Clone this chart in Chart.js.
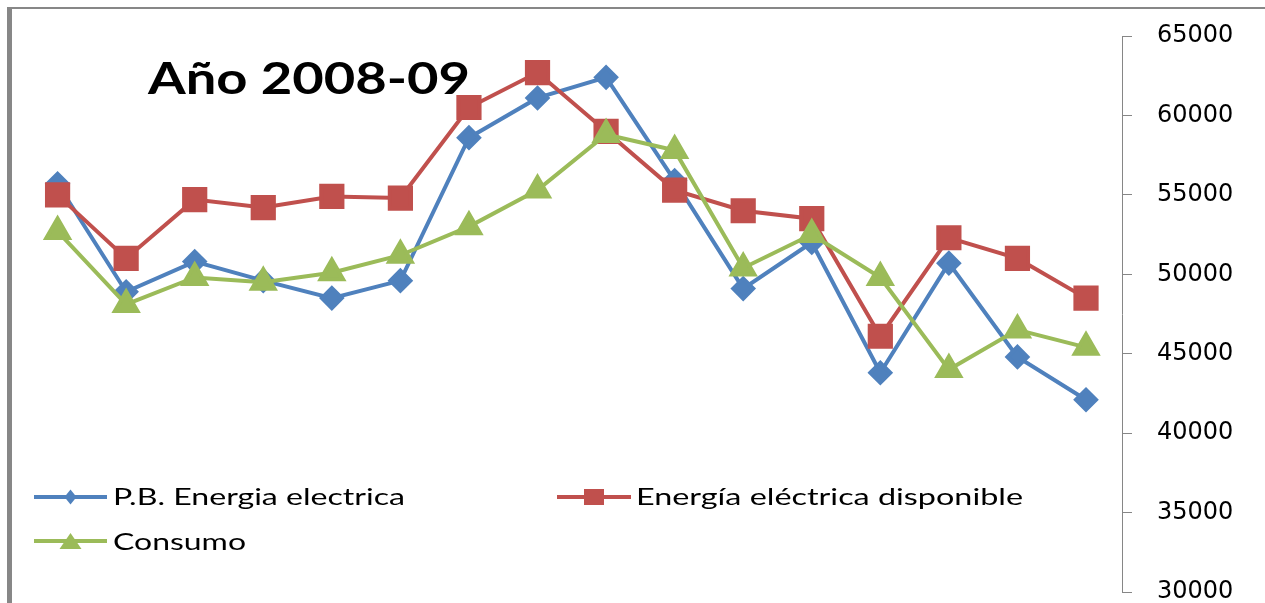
<!DOCTYPE html>
<html>
<head>
<meta charset="utf-8">
<script src="https://cdn.jsdelivr.net/npm/chart.js@4.4.0/dist/chart.umd.min.js"></script>
<style>
  html, body { margin: 0; padding: 0; background: #fff; overflow: hidden; }
  #marco { position: absolute; left: 7px; top: 7px; width: 1400px; height: 800px;
           border-top: 2px solid #878787; border-left: 5px solid #878787; }
  #caja { position: absolute; left: 0; top: 0; width: 1265px; height: 603px; }
</style>
</head>
<body>
<div id="marco"></div>
<div id="caja"><canvas id="grafico"></canvas></div>
<script>
// periodos del año 2008-09 (sin rótulos en el eje)
const periodos = ['1', '2', '3', '4', '5', '6', '7', '8', '9', '10', '11', '12', '13', '14', '15', '16'];

const pbEnergia = [55700, 48900, 50800, 49600, 48500, 49600, 58600, 61100, 62400, 55900, 49100, 52000, 43800, 50700, 44800, 42100];
const energiaDisponible = [55000, 51000, 54700, 54200, 54900, 54800, 60500, 62700, 59000, 55300, 54000, 53500, 46100, 52300, 51000, 48500];
const consumo = [52700, 48100, 49800, 49500, 50100, 51200, 53000, 55300, 58800, 57800, 50400, 52500, 49800, 44000, 46500, 45400];

const nombres = ['P.B. Energia electrica', 'Energía eléctrica disponible', 'Consumo'];
const colores = ['#4F81BD', '#C0504D', '#9BBB59'];
const titulo = 'Año 2008-09';

const yMin = 30000;
const yMax = 65000;
const yPaso = 5000;

const puntos = (serie) => serie.map((v, i) => ({ x: i, y: v }));

// titulo y leyenda van dentro del area del grafico, como en el original
function textoAncho(ctx, txt, x, y, ancho, font) {
    ctx.font = font;
    const w = ctx.measureText(txt).width;
    ctx.save();
    ctx.translate(x, y);
    ctx.scale(ancho / w, 1);
    ctx.fillText(txt, 0, 0);
    ctx.restore();
}

function marcador(ctx, tipo, x, y, color) {
    ctx.fillStyle = color;
    ctx.beginPath();
    if (tipo === 'rombo') {
        ctx.moveTo(x, y - 7.5);
        ctx.lineTo(x + 6, y);
        ctx.lineTo(x, y + 7.5);
        ctx.lineTo(x - 6, y);
    } else if (tipo === 'cuadro') {
        ctx.rect(x - 10, y - 8, 20, 16);
    } else {
        ctx.moveTo(x, y - 8);
        ctx.lineTo(x + 11, y + 8);
        ctx.lineTo(x - 11, y + 8);
    }
    ctx.closePath();
    ctx.fill();
}

const leyenda = [
    { linea: [34, 107], y: 497, texto: 113, base: 505, ancho: 292, tipo: 'rombo' },
    { linea: [557, 631], y: 497, texto: 636, base: 505, ancho: 387, tipo: 'cuadro' },
    { linea: [34, 107], y: 541, texto: 113, base: 550, ancho: 133, tipo: 'triangulo' },
];

const rotulos = {
    id: 'rotulos',
    afterDraw(chart) {
        const ctx = chart.ctx;
        ctx.save();
        ctx.fillStyle = '#000';
        ctx.textBaseline = 'alphabetic';
        textoAncho(ctx, titulo, 148, 94, 322, 'bold 43px Lato');

        leyenda.forEach((it, i) => {
            ctx.strokeStyle = colores[i];
            ctx.lineWidth = 4;
            ctx.beginPath();
            ctx.moveTo(it.linea[0], it.y);
            ctx.lineTo(it.linea[1], it.y);
            ctx.stroke();
            marcador(ctx, it.tipo, (it.linea[0] + it.linea[1]) / 2, it.y, colores[i]);
            ctx.fillStyle = '#000';
            textoAncho(ctx, nombres[i], it.texto, it.base, it.ancho, '24px Lato');
        });
        ctx.restore();
    }
};

const ctx = document.getElementById('grafico').getContext('2d');
const grafico = new Chart(ctx, {
    type: 'line',
    data: {
        labels: periodos,
        datasets: [
            {
                label: nombres[0],
                data: puntos(pbEnergia),
                borderColor: colores[0],
                backgroundColor: colores[0],
                borderWidth: 4,
                pointStyle: 'rectRot',
                pointRadius: 10,
                order: 3,
            },
            {
                label: nombres[1],
                data: puntos(energiaDisponible),
                borderColor: colores[1],
                backgroundColor: colores[1],
                borderWidth: 4,
                pointStyle: 'rect',
                pointRadius: 15,
                order: 2,
            },
            {
                label: nombres[2],
                data: puntos(consumo),
                borderColor: colores[2],
                backgroundColor: colores[2],
                borderWidth: 4,
                pointStyle: 'triangle',
                pointRadius: 13,
                order: 1,
            },
        ],
    },
    options: {
        responsive: true,
        maintainAspectRatio: false,
        animation: false,
        layout: {
            autoPadding: false,
            padding: { left: 10, top: 36, right: 0, bottom: 11 },
        },
        plugins: {
            legend: { display: false },
            tooltip: { enabled: false },
        },
        elements: {
            line: { tension: 0 },
            point: { borderWidth: 0, hoverRadius: 0 },
        },
        scales: {
            x: {
                type: 'linear',
                display: false,
                min: -0.694,
                max: 15.525,
            },
            y: {
                position: 'right',
                min: yMin,
                max: yMax,
                ticks: {
                    stepSize: yPaso,
                    color: '#000',
                    padding: 25,
                    font: { family: 'DejaVu Sans', size: 24 },
                    callback: (v) => String(v),
                },
                grid: {
                    drawOnChartArea: false,
                    tickLength: 10,
                    color: '#868686',
                },
                border: { color: '#868686', width: 1 },
                afterFit(scale) {
                    scale.width = 143;
                    scale.paddingTop = 0;
                    scale.paddingBottom = 0;
                },
            },
        },
    },
    plugins: [rotulos],
});
</script>
</body>
</html>
